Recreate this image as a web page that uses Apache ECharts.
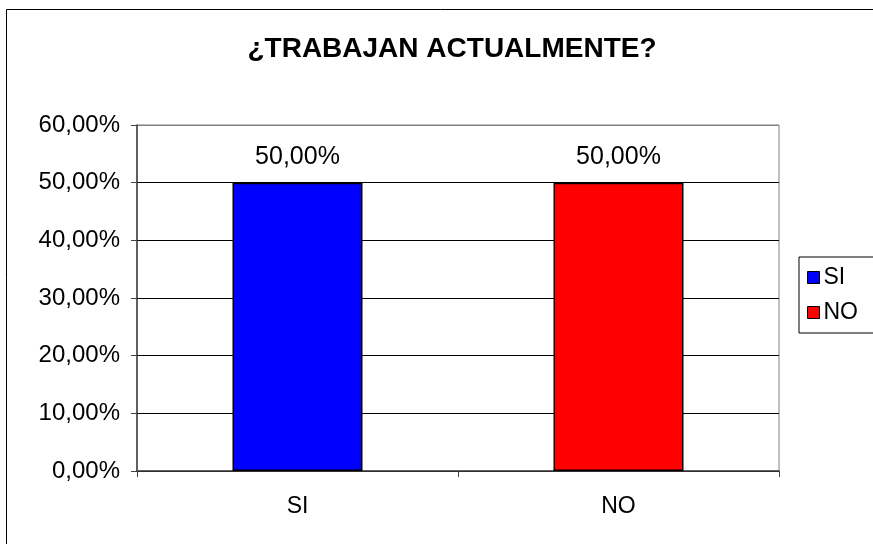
<!DOCTYPE html>
<html>
<head>
<meta charset="utf-8">
<script src="https://cdn.jsdelivr.net/npm/echarts@6/dist/echarts.min.js"></script>
<style>
  html, body { margin: 0; padding: 0; background: #fff; }
  #chart { width: 873px; height: 544px; }
</style>
</head>
<body>
<div id="chart"></div>
<script>
// datos de la encuesta
var categorias = ['SI', 'NO'];
var serieSI = [0.5, null];
var serieNO = [null, 0.5];
var titulo = '¿TRABAJAN ACTUALMENTE?';

var fuente = 'Liberation Sans';

// formato 0,00%
function fmtPct(v) {
    return (v * 100).toFixed(2).replace('.', ',') + '%';
}

var myChart = echarts.init(document.getElementById('chart'));

var option = {
    backgroundColor: '#fff',
    animation: false,
    title: {
        text: titulo,
        left: 447,
        top: 30,
        textAlign: 'center',
        textStyle: {
            fontFamily: fuente,
            fontSize: 28,
            fontWeight: 'bold',
            color: '#000'
        }
    },
    graphic: [
        {
            type: 'rect',
            shape: { x: 6.5, y: 9.5, width: 900, height: 600 },
            style: { fill: 'none', stroke: '#000', lineWidth: 1 },
            silent: true
        }
    ],
    legend: {
        orient: 'vertical',
        left: 799,
        top: 257,
        padding: [9, 20, 9, 8],
        itemWidth: 12,
        itemHeight: 12,
        itemGap: 12,
        icon: 'rect',
        borderColor: '#000',
        borderWidth: 1,
        itemStyle: { borderColor: '#000', borderWidth: 1 },
        textStyle: { fontFamily: fuente, fontSize: 23, color: '#000', padding: [0, 0, 0, -1] },
        data: ['SI', 'NO']
    },
    grid: {
        left: 137,
        right: 94,
        top: 125,
        bottom: 73,
        show: true,
        borderColor: '#808080',
        borderWidth: 1,
        backgroundColor: '#fff'
    },
    xAxis: {
        type: 'category',
        data: categorias,
        axisLine: { lineStyle: { color: '#404040', width: 1.5 } },
        axisTick: { show: true, length: 6, lineStyle: { color: '#404040' } },
        axisLabel: { margin: 24, fontFamily: fuente, fontSize: 23, color: '#000' }
    },
    yAxis: {
        type: 'value',
        min: 0,
        max: 0.6,
        interval: 0.1,
        axisLine: { show: true, lineStyle: { color: '#404040', width: 1.5 } },
        axisTick: { show: true, length: 6, lineStyle: { color: '#404040' } },
        axisLabel: {
            margin: 17,
            fontFamily: fuente,
            fontSize: 24,
            color: '#000',
            formatter: fmtPct
        },
        splitLine: {
            show: true,
            lineStyle: { color: ['#000', '#000', '#000', '#000', '#000', '#000', '#808080'], width: 1 }
        }
    },
    series: [
        {
            name: 'SI',
            type: 'bar',
            data: serieSI,
            barWidth: 130,
            barGap: '-100%',
            itemStyle: { color: '#0000ff', borderColor: '#000', borderWidth: 1.5 },
            label: {
                show: true,
                position: 'top',
                distance: 13,
                fontFamily: fuente,
                fontSize: 25,
                color: '#000',
                formatter: function (p) { return fmtPct(p.value); }
            }
        },
        {
            name: 'NO',
            type: 'bar',
            data: serieNO,
            barWidth: 130,
            barGap: '-100%',
            itemStyle: { color: '#ff0000', borderColor: '#000', borderWidth: 1.5 },
            label: {
                show: true,
                position: 'top',
                distance: 13,
                fontFamily: fuente,
                fontSize: 25,
                color: '#000',
                formatter: function (p) { return fmtPct(p.value); }
            }
        }
    ]
};

myChart.setOption(option);
</script>
</body>
</html>
